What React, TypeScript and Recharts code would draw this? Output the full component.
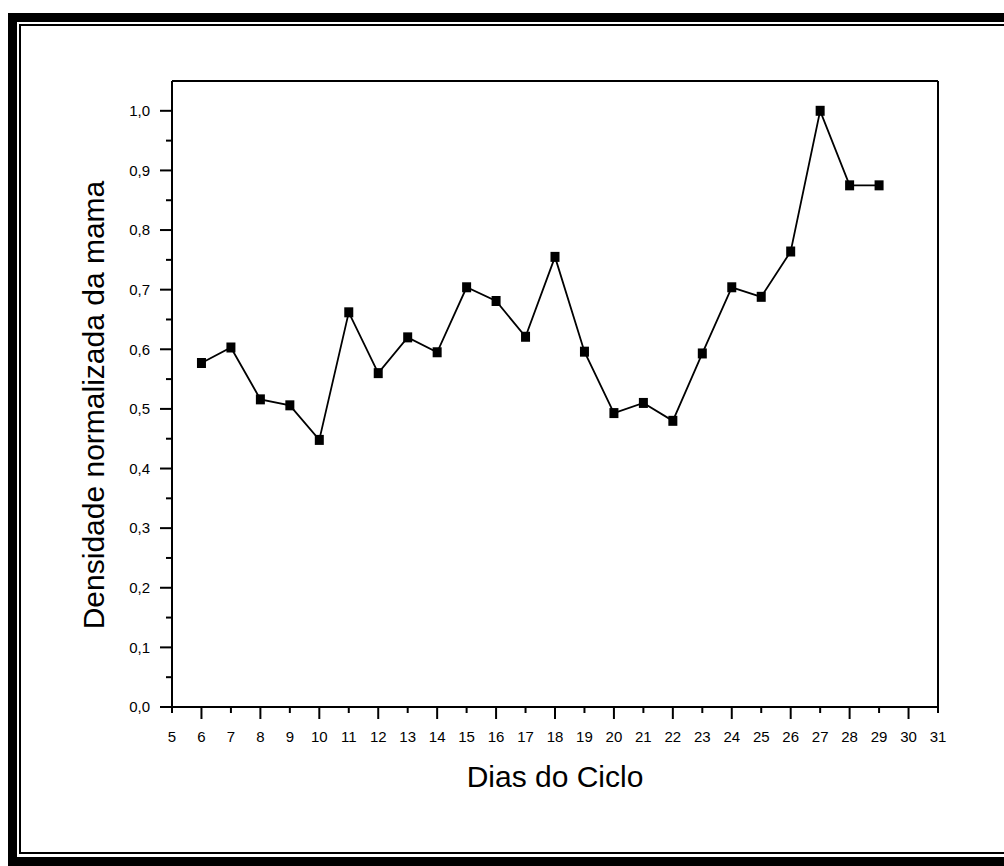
import { Line, LineChart, ReferenceLine, XAxis, YAxis } from "recharts";

const days = [6, 7, 8, 9, 10, 11, 12, 13, 14, 15, 16, 17, 18, 19, 20, 21, 22, 23, 24, 25, 26, 27, 28, 29];
const density = [
	0.577, 0.603, 0.516, 0.506, 0.448, 0.662, 0.56, 0.62, 0.595, 0.704, 0.681, 0.621,
	0.755, 0.596, 0.493, 0.51, 0.48, 0.593, 0.704, 0.688, 0.764, 1.0, 0.875, 0.875,
];

const xTicks = [5, 6, 7, 8, 9, 10, 11, 12, 13, 14, 15, 16, 17, 18, 19, 20, 21, 22, 23, 24, 25, 26, 27, 28, 29, 30, 31];
const yTicks = [
	0, 0.05, 0.1, 0.15, 0.2, 0.25, 0.3, 0.35, 0.4, 0.45, 0.5, 0.55, 0.6, 0.65, 0.7, 0.75,
	0.8, 0.85, 0.9, 0.95, 1.0,
];

const xTitle = "Dias do Ciclo";
const yTitle = "Densidade normalizada da mama";

const data = days.map((day, i) => ({ day, value: density[i] }));

const FONT = '"Liberation Sans", Arial, Helvetica, sans-serif';

function YTick(props: any) {
	const { x, y, payload } = props;
	const v = payload.value as number;
	const major = Math.round(v * 100) % 10 === 0;
	return (
		<g>
			<line x1={x} x2={x - (major ? 12 : 6)} y1={y} y2={y} stroke="#000" strokeWidth={2} />
			{major && (
				<text
					x={x - 22}
					y={y}
					dy="0.35em"
					textAnchor="end"
					fontFamily={FONT}
					fontSize={15}
					fill="#000"
				>
					{v.toFixed(1).replace(".", ",")}
				</text>
			)}
		</g>
	);
}

function XTick(props: any) {
	const { x, y, payload } = props;
	const v = payload.value as number;
	const major = v % 2 === 0;
	return (
		<g>
			<line x1={x} x2={x} y1={y} y2={y + (major ? 12 : 6)} stroke="#000" strokeWidth={2} />
			<text x={x} y={y + 35} textAnchor="middle" fontFamily={FONT} fontSize={15} fill="#000">
				{v}
			</text>
		</g>
	);
}

function Marker(props: any) {
	const { cx, cy } = props;
	if (cx == null || cy == null) return null;
	return <rect x={cx - 4.5} y={cy - 5} width={9} height={10} fill="#000" />;
}

export default function App() {
	return (
		<div style={{ position: "relative", width: 1004, height: 866, overflow: "hidden", background: "#fff" }}>
			<style>{"body{margin:0;overflow:hidden}"}</style>
			<div
				style={{
					position: "absolute",
					left: 8,
					top: 13,
					width: 1100,
					height: 853,
					border: "9px solid #000",
					boxSizing: "border-box",
				}}
			>
				<div
					style={{
						position: "absolute",
						left: 2,
						top: 2,
						right: 2,
						bottom: 3,
						border: "2px solid #000",
					}}
				/>
			</div>
			<div style={{ position: "absolute", left: 0, top: 0 }}>
				<LineChart width={1004} height={866} data={data} margin={{ top: 81, right: 66, bottom: 0, left: 0 }}>
					<XAxis
						dataKey="day"
						type="number"
						domain={[5, 31]}
						ticks={xTicks}
						interval={0}
						height={159}
						tickSize={0}
						tickMargin={0}
						tickLine={false}
						axisLine={{ stroke: "#000", strokeWidth: 2 }}
						tick={(p: any) => <XTick {...p} />}
						label={{
							content: (p: any) => {
								const vb = p.viewBox;
								return (
									<text
										x={vb.x + vb.width / 2}
										y={vb.y + 80}
										textAnchor="middle"
										fontFamily={FONT}
										fontSize={30}
										fill="#000"
									>
										{xTitle}
									</text>
								);
							},
						}}
					/>
					<YAxis
						type="number"
						domain={[0, 1.05]}
						allowDataOverflow
						ticks={yTicks}
						interval={0}
						width={172}
						tickSize={0}
						tickMargin={0}
						tickLine={false}
						axisLine={{ stroke: "#000", strokeWidth: 2 }}
						tick={(p: any) => <YTick {...p} />}
						label={{
							content: (p: any) => {
								const vb = p.viewBox;
								const cx = vb.x + 93;
								const cy = vb.y + vb.height / 2 + 11;
								return (
									<text
										transform={`translate(${cx},${cy}) rotate(-90)`}
										textAnchor="middle"
										dominantBaseline="central"
										fontFamily={FONT}
										fontSize={30}
										fill="#000"
									>
										{yTitle}
									</text>
								);
							},
						}}
					/>
					<ReferenceLine y={1.05} stroke="#000" strokeWidth={2} />
					<ReferenceLine x={31} stroke="#000" strokeWidth={2} />
					<Line
						dataKey="value"
						stroke="#000"
						strokeWidth={1.8}
						dot={(p: any) => <Marker key={p.index} {...p} />}
						activeDot={false}
						isAnimationActive={false}
					/>
				</LineChart>
			</div>
		</div>
	);
}
